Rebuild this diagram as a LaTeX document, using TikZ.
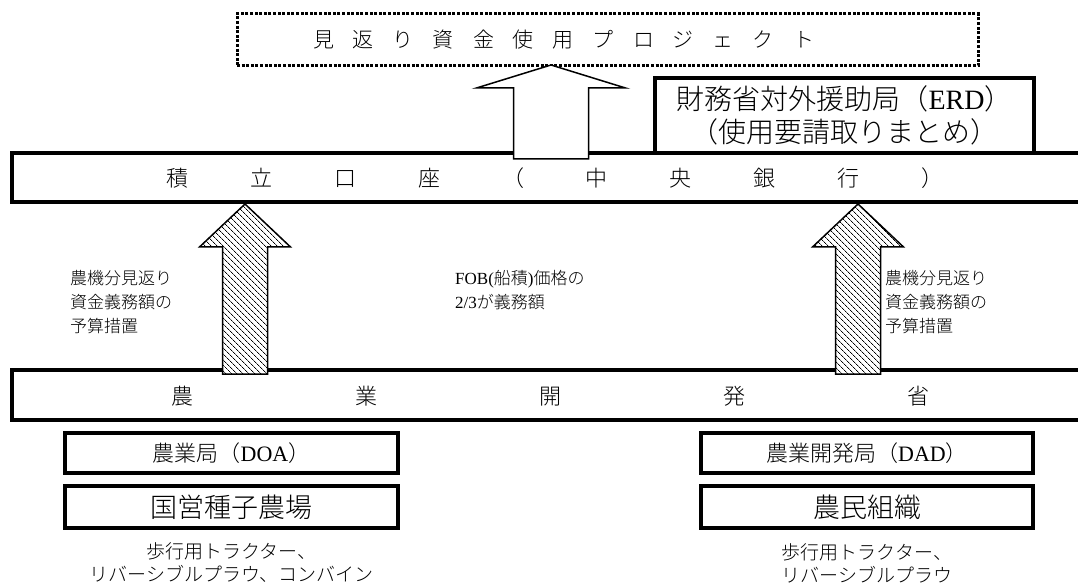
\documentclass[tikz,border=0pt]{standalone}
\usepackage{fontspec}
\setmainfont{Liberation Serif}
\newfontfamily\jp{Noto Sans CJK JP Light}
\usetikzlibrary{patterns.meta}
\newcommand\fs[2]{\fontsize{#1pt}{#2pt}\selectfont}
\newcommand\gT{\hspace{19pt}}
\newcommand\gB{\hspace{61.8pt}}
\newcommand\gC{\hspace{162pt}}
\begin{document}
\begin{tikzpicture}[x=1pt,y=-1pt,
  barline/.style={line width=3.4pt},
  box/.style={draw, line width=3.2pt, inner sep=0pt, align=center},
  blockarrow/.style={draw, line width=1.5pt, fill=white, line join=miter},
  hatcharrow/.style={draw, line width=1.5pt, line join=miter, preaction={fill=white},
     pattern={Lines[angle=-45,distance=4pt,line width=0.8pt]}},
  dotbox/.style={draw, line width=3pt, dash pattern=on 3pt off 1.6pt, inner sep=0pt},
  lbl/.style={align=left, font=\jp\fs{17}{24}, inner sep=0pt, anchor=west},
  bartext/.style={font=\jp\fs{22}{24}, inner sep=0pt},
  under/.style={font=\jp\fs{19}{23}, align=center, inner sep=0pt}
]
\useasboundingbox (0,0) rectangle (1078,585);

% project box (dotted)
\node[dotbox, minimum width=741pt, minimum height=52pt, font=\jp\fs{21}{24}] (proj) at (607.5,40)
  {見\gT 返\gT り\gT 資\gT 金\gT 使\gT 用\gT プ\gT ロ\gT ジ\gT ェ\gT ク\gT ト\hspace*{88pt}};

% bar 1 : account
\draw[barline] (1078,153) -| (12,202) -- (1078,202);
\node[bartext] (bank) at (555,178) {積\gB 立\gB 口\gB 座\gB （\gB 中\gB 央\gB 銀\gB 行\gB ）};

% ERD box
\node[box, minimum width=379pt, minimum height=75pt, font=\fs{28}{33}] (erd) at (844.5,115.5)
  {{\jp 財務省対外援助局（}ERD{\jp ）}\\{\jp （使用要請取りまとめ）}};

% white arrow from account to project
\draw[blockarrow, shift={(551,159)}] (-37.5,0) -- (-37.5,-71) -- (-74.5,-71) -- (0,-94)
  -- (74.5,-71) -- (37.5,-71) -- (37.5,0) -- cycle;

% bar 2 : ministry
\draw[barline] (1078,370) -| (12,420) -- (1078,420);
\node[bartext] (moa) at (550,396) {農\gC 業\gC 開\gC 発\gC 省};

% hatched arrows ministry -> account
\draw[hatcharrow, shift={(245,374)}] (-22.5,0) -- (-22.5,-127) -- (-45.5,-127) -- (0,-170)
  -- (45.5,-127) -- (22.5,-127) -- (22.5,0) -- cycle;
\draw[hatcharrow, shift={(858,374)}] (-22.5,0) -- (-22.5,-127) -- (-45.5,-127) -- (0,-170)
  -- (45.5,-127) -- (22.5,-127) -- (22.5,0) -- cycle;

% labels
\node[lbl] (lnote) at (70,302) {農機分見返り\\資金義務額の\\予算措置};
\node[lbl] (fob) at (455,290) {{\rmfamily FOB(}船積{\rmfamily )}価格の\\{\rmfamily 2/3}が義務額};
\node[lbl] (rnote) at (885,302) {農機分見返り\\資金義務額の\\予算措置};

% lower boxes
\node[box, minimum width=333pt, minimum height=40pt, font=\fs{22}{26}] (doa) at (231.5,453)
  {{\jp 農業局（}DOA{\jp ）}};
\node[box, minimum width=333pt, minimum height=42pt, font=\jp\fs{27}{30}] (seed) at (231.5,507)
  {国営種子農場};
\node[box, minimum width=332pt, minimum height=40pt, font=\fs{22}{26}] (dad) at (867,453)
  {{\jp 農業開発局（}DAD{\jp ）}};
\node[box, minimum width=332pt, minimum height=42pt, font=\jp\fs{27}{30}] (farm) at (867,507)
  {農民組織};

\node[under] (eq1) at (231.5,563) {歩行用トラクター、\\リバーシブルプラウ、コンバイン};
\node[under] (eq2) at (867,563) {歩行用トラクター、\\リバーシブルプラウ};
\end{tikzpicture}
\end{document}
